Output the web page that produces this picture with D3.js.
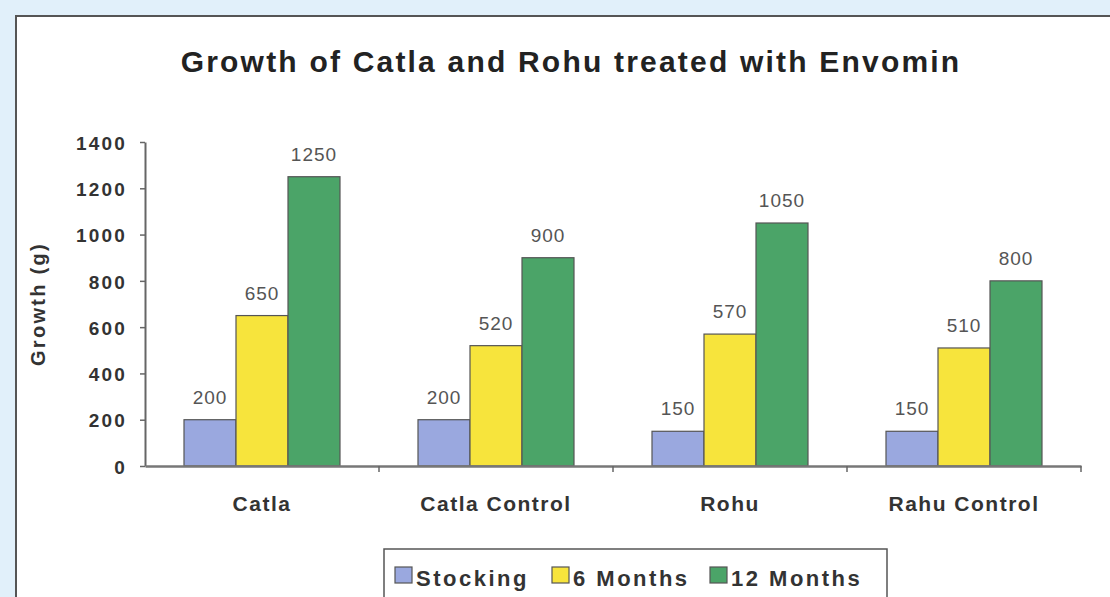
<!DOCTYPE html>
<html>
<head>
  <meta charset="utf-8">
  <title>Growth of Catla and Rohu</title>
  <script src="https://d3js.org/d3.v7.min.js"></script>
  <style>
    body { margin: 0; background: #e1f0fa; }
    svg { display: block; font-family: "Liberation Sans", Arial, sans-serif; }
  </style>
</head>
<body>
<div id="chartContainer"></div>
<script>
  // chart values
  var categories = ["Catla", "Catla Control", "Rohu", "Rahu Control"];
  var seriesNames = ["Stocking", "6 Months", "12 Months"];
  var stocking = [200, 200, 150, 150];
  var sixMonths = [650, 520, 570, 510];
  var twelveMonths = [1250, 900, 1050, 800];
  var yTicks = [0, 200, 400, 600, 800, 1000, 1200, 1400];
  var colors = ["#9aa8df", "#f7e43c", "#4ba468"];

  var W = 1110, H = 597;
  var svg = d3.select("#chartContainer").append("svg")
    .attr("width", W).attr("height", H);

  // white panel
  svg.append("rect")
    .attr("x", 16).attr("y", 16).attr("width", W + 10).attr("height", H + 10)
    .attr("fill", "#fff").attr("stroke", "#555").attr("stroke-width", 2);

  svg.append("text")
    .attr("x", 571).attr("y", 72)
    .attr("text-anchor", "middle")
    .style("font-size", "30px").style("font-weight", "bold")
    .style("letter-spacing", "2.2px")
    .attr("fill", "#222")
    .text("Growth of Catla and Rohu treated with Envomin");

  var x0 = 145, x1 = 1081, y0 = 466, y1 = 142;
  var x = d3.scaleBand().domain(categories).range([x0, x1]);
  var xs = d3.scaleBand().domain(seriesNames)
    .range([39, 195]);
  var y = d3.scaleLinear().domain([0, 1400]).range([y0, y1]);

  var series = [stocking, sixMonths, twelveMonths];

  // bars
  seriesNames.forEach(function (s, i) {
    svg.append("g").selectAll("rect")
      .data(series[i])
      .enter().append("rect")
      .attr("x", function (d, j) { return x(categories[j]) + xs(s); })
      .attr("y", function (d) { return y(d); })
      .attr("width", xs.bandwidth())
      .attr("height", function (d) { return y0 - y(d); })
      .attr("fill", colors[i])
      .attr("stroke", "#555").attr("stroke-width", 1.2);

    svg.append("g").selectAll("text")
      .data(series[i])
      .enter().append("text")
      .attr("x", function (d, j) { return x(categories[j]) + xs(s) + xs.bandwidth() / 2; })
      .attr("y", function (d) { return y(d) - 16; })
      .attr("text-anchor", "middle")
      .style("font-size", "19px")
      .style("letter-spacing", "1px")
      .attr("fill", "#555")
      .text(function (d) { return d; });
  });

  // y axis
  var yAxis = svg.append("g")
    .attr("transform", "translate(" + x0 + ",0)")
    .call(d3.axisLeft(y).tickValues(yTicks).tickFormat(d3.format("d"))
      .tickSize(5).tickSizeOuter(0));
  yAxis.attr("font-family", null).attr("font-size", null);
  yAxis.select(".domain").attr("stroke", "#666").attr("stroke-width", 2);
  yAxis.selectAll(".tick line").attr("stroke", "#666").attr("stroke-width", 1.5);
  yAxis.selectAll(".tick text")
    .attr("x", -18).attr("dy", "0.38em")
    .style("font-size", "19px").style("font-weight", "bold")
    .style("letter-spacing", "2.2px")
    .attr("fill", "#333");

  // x axis
  var xAxis = svg.append("g")
    .attr("transform", "translate(0," + y0 + ")")
    .call(d3.axisBottom(x).tickSize(0).tickSizeOuter(0));
  xAxis.attr("font-family", null).attr("font-size", null);
  xAxis.select(".domain").attr("stroke", "#777").attr("stroke-width", 2.5);
  xAxis.selectAll(".tick text")
    .attr("y", 45).attr("dy", null)
    .style("font-size", "21px").style("font-weight", "bold")
    .style("letter-spacing", "1.5px")
    .attr("fill", "#333");
  // band boundary ticks
  xAxis.selectAll(".sep")
    .data(categories)
    .enter().append("line")
    .attr("x1", function (d) { return x(d) + x.bandwidth(); })
    .attr("x2", function (d) { return x(d) + x.bandwidth(); })
    .attr("y1", 0).attr("y2", 6)
    .attr("stroke", "#666").attr("stroke-width", 1.5);

  // y title
  svg.append("text")
    .attr("transform", "translate(38,304) rotate(-90)")
    .attr("text-anchor", "middle")
    .attr("dy", "0.35em")
    .style("font-size", "20px").style("font-weight", "bold")
    .style("letter-spacing", "2.3px")
    .attr("fill", "#333")
    .text("Growth (g)");

  // legend
  var lg = svg.append("g");
  lg.append("rect")
    .attr("x", 384).attr("y", 549).attr("width", 503).attr("height", 60)
    .attr("fill", "#fff").attr("stroke", "#555").attr("stroke-width", 1.5);
  var legX = [395, 552, 710];
  seriesNames.forEach(function (s, i) {
    lg.append("rect")
      .attr("x", legX[i]).attr("y", 567).attr("width", 17).attr("height", 16)
      .attr("fill", colors[i]).attr("stroke", "#555").attr("stroke-width", 1.2);
    lg.append("text")
      .attr("x", legX[i] + 21).attr("y", 586)
      .style("font-size", "22px").style("font-weight", "bold")
      .style("letter-spacing", "2.5px")
      .attr("fill", "#333")
      .text(s);
  });
</script>
</body>
</html>
